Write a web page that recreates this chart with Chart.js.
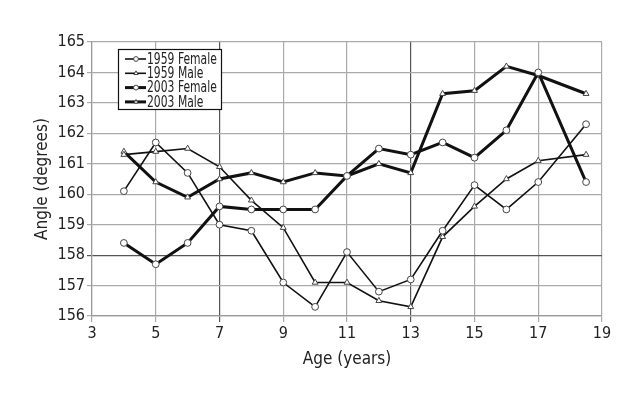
<!DOCTYPE html>
<html>
<head>
<meta charset="utf-8">
<script src="https://cdn.jsdelivr.net/npm/chart.js@4.4.0/dist/chart.umd.min.js"></script>
<style>
  html, body { margin: 0; padding: 0; background: #fff; }
  #grafico { display: block; }
</style>
</head>
<body>
<canvas id="grafico" width="640" height="400"></canvas>
<script>
// Idades (anos) e ângulos medidos (graus)
const idades = [4, 5, 6, 7, 8, 9, 10, 11, 12, 13, 14, 15, 16, 17, 18.5];
const feminino1959 = [160.1, 161.7, 160.7, 159.0, 158.8, 157.1, 156.3, 158.1, 156.8, 157.2, 158.8, 160.3, 159.5, 160.4, 162.3];
const masculino1959 = [161.3, 161.4, 161.5, 160.9, 159.8, 158.9, 157.1, 157.1, 156.5, 156.3, 158.6, 159.6, 160.5, 161.1, 161.3];
const feminino2003 = [158.4, 157.7, 158.4, 159.6, 159.5, 159.5, 159.5, 160.6, 161.5, 161.3, 161.7, 161.2, 162.1, 164.0, 160.4];
const masculino2003 = [161.4, 160.4, 159.9, 160.5, 160.7, 160.4, 160.7, 160.6, 161.0, 160.7, 163.3, 163.4, 164.2, 163.9, 163.3];

const nomesSeries = ["1959 Female", "1959 Male", "2003 Female", "2003 Male"];
const fonte = "'Liberation Sans Narrow', 'DejaVu Sans Condensed', 'Arial Narrow', sans-serif";
const corTexto = "#222";

function pontos(valores) {
  return valores.map((v, i) => ({ x: idades[i], y: v }));
}

function serie(nome, valores, estilo, espessura) {
  return {
    label: nome,
    data: pontos(valores),
    borderColor: "#111",
    backgroundColor: "#fff",
    borderWidth: espessura,
    pointStyle: estilo,
    pointRadius: 3.4,
    pointBorderWidth: 1,
    pointBorderColor: "#444",
    pointBackgroundColor: "#fff",
    tension: 0
  };
}

// Legenda desenhada dentro da área do gráfico
const legendaInterna = {
  id: "legendaInterna",
  afterDraw(chart) {
    const c = chart.ctx;
    const x0 = 118, y0 = 49, w = 103, h = 60;
    c.save();
    c.fillStyle = "#fff";
    c.fillRect(x0, y0, w, h);
    c.strokeStyle = "#111";
    c.lineWidth = 1.2;
    c.strokeRect(x0 + 0.5, y0 + 0.5, w, h);
    c.font = "15px " + fonte;
    c.textBaseline = "middle";
    chart.data.datasets.forEach((ds, i) => {
      const y = 59 + i * 14.3;
      c.strokeStyle = "#111";
      c.lineWidth = ds.borderWidth;
      c.beginPath();
      c.moveTo(125, y);
      c.lineTo(146, y);
      c.stroke();
      c.lineWidth = 1;
      c.strokeStyle = "#444";
      c.fillStyle = "#fff";
      Chart.helpers.drawPoint(c, { pointStyle: ds.pointStyle, radius: 2.4, rotation: 0, borderWidth: 1 }, 136, y);
      // texto mais estreito, como no original
      c.save();
      c.translate(147, y + 1);
      c.scale(0.8, 1);
      c.fillStyle = corTexto;
      c.fillText(ds.label, 0, 0);
      c.restore();
    });
    c.restore();
  }
};

const ctx = document.getElementById("grafico").getContext("2d");

new Chart(ctx, {
  type: "line",
  data: {
    datasets: [
      serie(nomesSeries[0], feminino1959, "circle", 1.6),
      serie(nomesSeries[1], masculino1959, "triangle", 1.6),
      serie(nomesSeries[2], feminino2003, "circle", 3),
      serie(nomesSeries[3], masculino2003, "triangle", 3)
    ]
  },
  options: {
    responsive: false,
    animation: false,
    layout: { padding: { left: 30, top: 42, right: 38, bottom: 28 } },
    plugins: {
      legend: { display: false },
      tooltip: { enabled: false }
    },
    scales: {
      x: {
        type: "linear",
        min: 3,
        max: 19,
        ticks: {
          stepSize: 2,
          color: corTexto,
          font: { family: fonte, size: 16 },
          padding: 2,
          maxRotation: 0
        },
        grid: {
          color: (c) => (c.tick && (c.tick.value === 7 || c.tick.value === 13)) ? "#555" : "#aaa",
          lineWidth: 1.2,
          tickLength: 6
        },
        border: { color: "#999", width: 1.2 },
        title: {
          display: true,
          text: "Age (years)",
          color: corTexto,
          font: { family: fonte, size: 17 },
          padding: { top: 0, bottom: 2 }
        },
        afterFit: (escala) => { escala.height = 400 - 316 - 28; }
      },
      y: {
        min: 156,
        max: 165,
        ticks: {
          stepSize: 1,
          color: corTexto,
          font: { family: fonte, size: 16 },
          padding: 2
        },
        grid: {
          color: (c) => (c.tick && c.tick.value === 158) ? "#555" : "#aaa",
          lineWidth: 1.2,
          tickLength: 5
        },
        border: { color: "#999", width: 1.2 },
        title: {
          display: true,
          text: "Angle (degrees)",
          color: corTexto,
          font: { family: fonte, size: 17 },
          padding: { top: 2, bottom: 0 }
        },
        afterFit: (escala) => { escala.width = 92 - 30; }
      }
    }
  },
  plugins: [legendaInterna]
});
</script>
</body>
</html>
